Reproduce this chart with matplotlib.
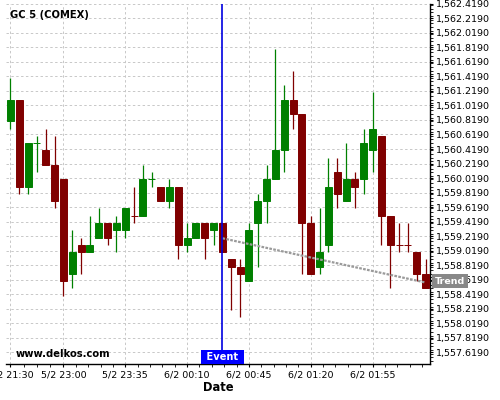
import matplotlib
matplotlib.use("Agg")
import matplotlib.pyplot as plt
import matplotlib.transforms as mtransforms
from matplotlib.ticker import FixedLocator, MultipleLocator, FuncFormatter
import numpy as np

# Velas de 5 minutos (GC 5, COMEX)
opens = [1560.8, 1561.1, 1559.9, 1560.5, 1560.4, 1560.2, 1560.0, 1558.7, 1559.1, 1559.0,
         1559.2, 1559.4, 1559.3, 1559.3, 1559.5, 1559.5, 1560.0, 1559.9, 1559.7, 1559.9,
         1559.1, 1559.2, 1559.4, 1559.3, 1559.4, 1558.9, 1558.8, 1558.6, 1559.4, 1559.7,
         1560.0, 1560.4, 1561.1, 1560.9, 1559.4, 1558.8, 1559.1, 1560.1, 1559.7, 1560.0,
         1560.0, 1560.4, 1560.6, 1559.5, 1559.1, 1559.1, 1559.0, 1558.7]
highs = [1561.4, 1561.1, 1560.5, 1560.6, 1560.7, 1560.6, 1560.0, 1559.3, 1559.2, 1559.5,
         1559.6, 1559.4, 1559.5, 1559.6, 1559.9, 1560.2, 1560.1, 1559.9, 1560.0, 1559.9,
         1559.4, 1559.4, 1559.4, 1559.4, 1559.4, 1558.9, 1558.9, 1559.4, 1559.8, 1560.2,
         1561.8, 1561.3, 1561.5, 1560.9, 1559.5, 1559.6, 1560.3, 1560.3, 1560.5, 1560.1,
         1560.7, 1561.2, 1560.6, 1559.5, 1559.4, 1559.4, 1559.0, 1558.9]
lows = [1560.7, 1559.8, 1559.8, 1560.1, 1560.2, 1559.6, 1558.4, 1558.5, 1558.7, 1559.0,
        1559.2, 1559.1, 1559.0, 1559.2, 1559.4, 1559.5, 1559.9, 1559.7, 1559.6, 1558.9,
        1559.0, 1559.2, 1558.9, 1559.1, 1559.0, 1558.2, 1558.1, 1558.6, 1558.8, 1559.4,
        1560.0, 1560.1, 1560.7, 1558.7, 1558.7, 1558.7, 1559.0, 1559.6, 1559.7, 1559.6,
        1559.8, 1560.1, 1559.1, 1558.5, 1559.0, 1559.0, 1558.6, 1558.5]
closes = [1561.1, 1559.9, 1560.5, 1560.5, 1560.2, 1559.7, 1558.6, 1559.0, 1559.0, 1559.1,
          1559.4, 1559.2, 1559.4, 1559.6, 1559.5, 1560.0, 1560.0, 1559.7, 1559.9, 1559.1,
          1559.2, 1559.4, 1559.2, 1559.4, 1559.0, 1558.8, 1558.7, 1559.3, 1559.7, 1560.0,
          1560.4, 1561.1, 1560.9, 1559.4, 1558.7, 1559.0, 1559.9, 1559.8, 1560.0, 1559.9,
          1560.5, 1560.7, 1559.5, 1559.1, 1559.1, 1559.1, 1558.7, 1558.5]
# doji rojos (cierre == apertura pero vela bajista)
red_doji = [14, 44, 45]

# etiquetas del eje x (posicion = indice de vela)
tick_idx = [0, 6, 13, 20, 27, 34, 41]
tick_labels = ["5/2 21:30", "5/2 23:00", "5/2 23:35", "6/2 00:10",
               "6/2 00:45", "6/2 01:20", "6/2 01:55"]

event_idx = 24
trend_x = [24, 47]
trend_y = [1559.19, 1558.58]
trend_label_y = 1558.6

green = "#008000"
red = "#800000"

fig = plt.figure(figsize=(5, 4), dpi=100)
ax = fig.add_axes([0.012, 0.08925, 0.848, 0.902])

x = np.arange(len(opens))
o = np.array(opens)
c = np.array(closes)
up = c > o
up |= (c == o)
for i in red_doji:
    up[i] = False
colors = [green if u else red for u in up]

# mechas
ax.vlines(x, lows, highs, colors=colors, linewidth=0.9, zorder=3)
# cuerpos
bottoms = np.minimum(o, c)
heights = np.abs(c - o)
ax.bar(x, heights, bottom=bottoms, width=0.78, color=colors,
       edgecolor=colors, linewidth=0.7, zorder=4)

# linea de tendencia
ax.plot(trend_x, trend_y, color="#9a9a9a", linewidth=1.6,
        linestyle=(0, (1.2, 0.6)), zorder=5)

# evento
ax.axvline(event_idx, color="#0000e0", linewidth=1.2, zorder=6)
trans = mtransforms.blended_transform_factory(ax.transData, ax.transAxes)
ax.annotate(" Event ", xy=(event_idx, 0), xycoords=trans,
            xytext=(0, 1.6), textcoords="offset points",
            ha="center", va="bottom", color="white", fontsize=7.1,
            fontweight="bold", zorder=7,
            bbox=dict(boxstyle="square,pad=0.2", fc="#0000ff", ec="none"))

# ejes
ax.set_xlim(-0.5, 47.5)
ax.set_ylim(1557.454, 1562.423)

ax.spines["top"].set_visible(False)
ax.spines["left"].set_visible(False)
ax.spines["right"].set_linewidth(1.0)
ax.spines["bottom"].set_linewidth(1.0)

ax.yaxis.tick_right()
ax.yaxis.set_major_locator(FixedLocator(1557.619 + 0.2 * np.arange(25)))
ax.yaxis.set_minor_locator(MultipleLocator(0.05))
ax.yaxis.set_major_formatter(FuncFormatter(lambda v, p: "{:,.4f}".format(v)))

ax.xaxis.set_major_locator(FixedLocator(tick_idx))
ax.set_xticklabels(tick_labels)
minor = list(np.linspace(0, 6, 5))
for a, b in zip(tick_idx[1:], tick_idx[2:]):
    minor += list(np.linspace(a, b, 6))
minor += [41 + 1.4 * k for k in range(1, 5)]
ax.xaxis.set_minor_locator(FixedLocator(minor))

ax.tick_params(axis="both", which="major", labelsize=6.8, length=2.5, width=0.8, pad=2)
ax.tick_params(axis="both", which="minor", length=2, width=0.6)
ax.tick_params(axis="y", which="both", left=False, right=True)

ax.grid(True, which="major", color="#c8c8c8", linestyle=(0, (2.5, 2.5)), linewidth=0.7)
ax.set_axisbelow(True)

ax.set_xlabel("Date", fontsize=8.3, fontweight="bold", labelpad=1)

# etiqueta de la tendencia sobre el eje derecho
ty = mtransforms.blended_transform_factory(ax.transAxes, ax.transData)
ax.annotate("Trend", xy=(1, trend_label_y), xycoords=ty,
            xytext=(3.2, 0), textcoords="offset points",
            ha="left", va="center", color="white", fontsize=6.8,
            fontweight="bold", annotation_clip=False, zorder=10,
            bbox=dict(boxstyle="square,pad=0.3", fc="#888888", ec="none"))

fig.text(10 / 500, 1 - 15.3 / 400, "GC 5 (COMEX)", fontsize=7.2,
         fontweight="bold", va="center", ha="left")
fig.text(15.3 / 500, 1 - 354 / 400, "www.delkos.com", fontsize=7.2,
         fontweight="bold", va="center", ha="left")

fig.savefig("out.png", dpi=100)
